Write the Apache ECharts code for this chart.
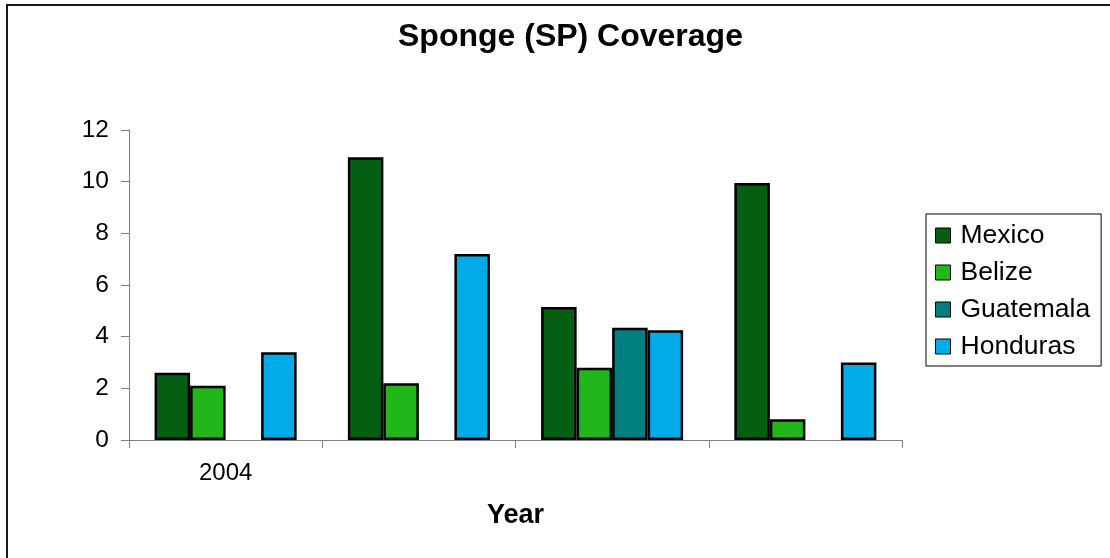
<!DOCTYPE html>
<html>
<head>
<meta charset="utf-8">
<title>Sponge (SP) Coverage</title>
<script src="https://cdn.jsdelivr.net/npm/echarts@6/dist/echarts.min.js"></script>
<style>
  html, body { margin: 0; padding: 0; background: #fff; }
  #chart { width: 1110px; height: 558px; }
</style>
</head>
<body>
<div id="chart"></div>
<script>
// Survey years (only the first one carries a label on the axis)
const categories = ['2004', '', '', ''];

// Sponge coverage (%) by country
const mexico    = [2.6, 10.95, 5.15, 9.95];
const belize    = [2.1, 2.2, 2.8, 0.8];
const guatemala = [null, null, 4.35, null];
const honduras  = [3.4, 7.2, 4.25, 3.0];

const yTicks = { min: 0, max: 12, interval: 2 };

const FONT = '"Liberation Sans", Arial, sans-serif';
const border = { borderColor: '#000', borderWidth: 2.5 };

function barSeries(name, data, color) {
  return {
    name: name,
    type: 'bar',
    data: data,
    barGap: '0%',
    barCategoryGap: '26.5%',
    itemStyle: Object.assign({ color: color }, border)
  };
}

const chart = echarts.init(document.getElementById('chart'), null, { renderer: 'canvas' });

chart.setOption({
  animation: false,
  backgroundColor: '#fff',
  textStyle: { fontFamily: FONT },
  title: {
    text: 'Sponge (SP) Coverage',
    left: 398,
    top: 21,
    padding: 0,
    textStyle: { fontFamily: FONT, fontSize: 32, fontWeight: 'bold', color: '#000' }
  },
  grid: { left: 129, right: 208, top: 130, bottom: 118, containLabel: false },
  legend: {
    orient: 'vertical',
    left: 926,
    top: 214,
    padding: [8, 11, 6, 9],
    itemGap: 10,
    itemWidth: 15,
    itemHeight: 15,
    borderColor: '#000',
    borderWidth: 1,
    icon: 'rect',
    itemStyle: { borderColor: '#000', borderWidth: 1 },
    textStyle: { fontFamily: FONT, fontSize: 26.5, color: '#000', lineHeight: 26, padding: [0, 0, 0, 5] },
    data: ['Mexico', 'Belize', 'Guatemala', 'Honduras']
  },
  xAxis: {
    type: 'category',
    data: categories,
    boundaryGap: true,
    name: 'Year',
    nameLocation: 'middle',
    nameGap: 62,
    nameTextStyle: { fontFamily: FONT, fontSize: 27, fontWeight: 'bold', color: '#000' },
    axisLine: { lineStyle: { color: '#808080', width: 1 } },
    axisTick: { show: true, inside: false, length: 8, alignWithLabel: false, lineStyle: { color: '#808080' } },
    axisLabel: { margin: 21, fontFamily: FONT, fontSize: 24, color: '#000', interval: 0 },
    splitLine: { show: false }
  },
  yAxis: {
    type: 'value',
    min: yTicks.min,
    max: yTicks.max,
    interval: yTicks.interval,
    axisLine: { show: true, lineStyle: { color: '#808080', width: 1 } },
    axisTick: { show: true, inside: false, length: 8, lineStyle: { color: '#808080' } },
    axisLabel: { margin: 20, fontFamily: FONT, fontSize: 24.5, color: '#000' },
    splitLine: { show: false }
  },
  series: [
    barSeries('Mexico', mexico, '#045F12'),
    barSeries('Belize', belize, '#21B61A'),
    barSeries('Guatemala', guatemala, '#017F80'),
    barSeries('Honduras', honduras, '#00ACE8')
  ],
  graphic: [{
    type: 'rect',
    silent: true,
    shape: { x: 7, y: 5, width: 1200, height: 700 },
    style: { fill: 'none', stroke: '#1a1a1a', lineWidth: 2 }
  }]
});
</script>
</body>
</html>
